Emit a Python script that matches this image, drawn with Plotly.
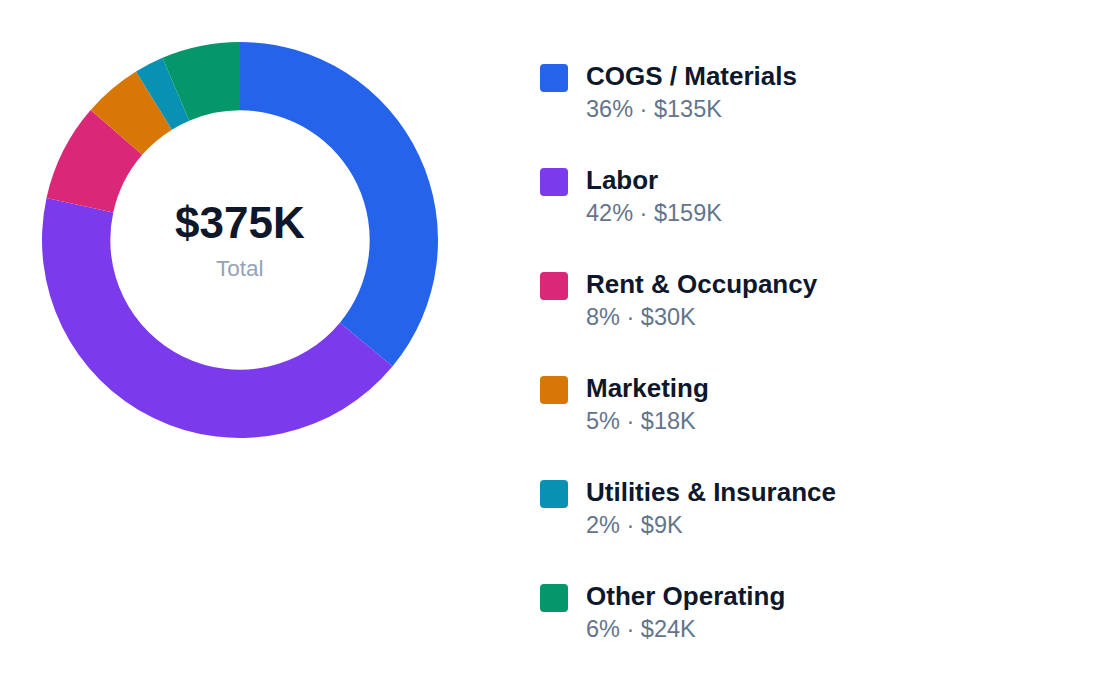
import plotly.graph_objects as go

# spend breakdown, in $K
categories = ["COGS / Materials", "Labor", "Rent & Occupancy", "Marketing",
              "Utilities & Insurance", "Other Operating"]
values = [135, 159, 30, 18, 9, 24]
percents = [36, 42, 8, 5, 2, 6]
colors = ["#2563eb", "#7c3aed", "#db2777", "#d97706", "#0891b2", "#059669"]
total_label = "$375K"

W, H = 1120, 696
OFF = 8  # page body margin
FONT = "Helvetica, Arial, Liberation Sans, sans-serif"


def px_x(x):
    return (x - OFF) / W


def px_y(y):
    return 1 - (y - OFF) / H


fig = go.Figure(go.Pie(
    labels=categories,
    values=values,
    marker=dict(colors=colors, line=dict(width=0)),
    hole=0.655,
    sort=False,
    direction="clockwise",
    rotation=0,
    textinfo="none",
    hoverinfo="label+value",
    showlegend=False,
    domain=dict(x=[px_x(42), px_x(438)], y=[px_y(438), px_y(42)]),
))

annotations = [
    dict(x=px_x(240), y=px_y(222), text="<b>" + total_label + "</b>",
         font=dict(size=44, color="#0f172a", family=FONT)),
    dict(x=px_x(240), y=px_y(268), text="Total",
         font=dict(size=22.5, color="#94a3b8", family=FONT)),
]
shapes = []

for i, (name, pct, val, col) in enumerate(zip(categories, percents, values, colors)):
    cy = 78 + 104 * i
    x0, x1, y0, y1, r = 540, 568, cy - 14, cy + 14, 4
    path = (
        f"M {px_x(x0 + r)} {px_y(y0)} L {px_x(x1 - r)} {px_y(y0)} "
        f"Q {px_x(x1)} {px_y(y0)} {px_x(x1)} {px_y(y0 + r)} "
        f"L {px_x(x1)} {px_y(y1 - r)} Q {px_x(x1)} {px_y(y1)} {px_x(x1 - r)} {px_y(y1)} "
        f"L {px_x(x0 + r)} {px_y(y1)} Q {px_x(x0)} {px_y(y1)} {px_x(x0)} {px_y(y1 - r)} "
        f"L {px_x(x0)} {px_y(y0 + r)} Q {px_x(x0)} {px_y(y0)} {px_x(x0 + r)} {px_y(y0)} Z"
    )
    shapes.append(dict(type="path", path=path, xref="paper", yref="paper",
                       fillcolor=col, line=dict(width=0)))
    annotations.append(dict(x=px_x(584), y=px_y(cy - 2), xanchor="left",
                            text="<b>" + name + "</b>",
                            font=dict(size=26, color="#0f172a", family=FONT)))
    annotations.append(dict(x=px_x(584), y=px_y(cy + 31), xanchor="left",
                            text=f"{pct}% · ${val}K",
                            font=dict(size=23.5, color="#64748b", family=FONT)))

for a in annotations:
    a.update(xref="paper", yref="paper", showarrow=False, yanchor="middle")
    a.setdefault("xanchor", "center")

fig.update_layout(
    width=W, height=H,
    margin=dict(l=0, r=0, t=0, b=0),
    paper_bgcolor="white",
    plot_bgcolor="white",
    annotations=annotations,
    shapes=shapes,
)

fig.write_html("out.html")
